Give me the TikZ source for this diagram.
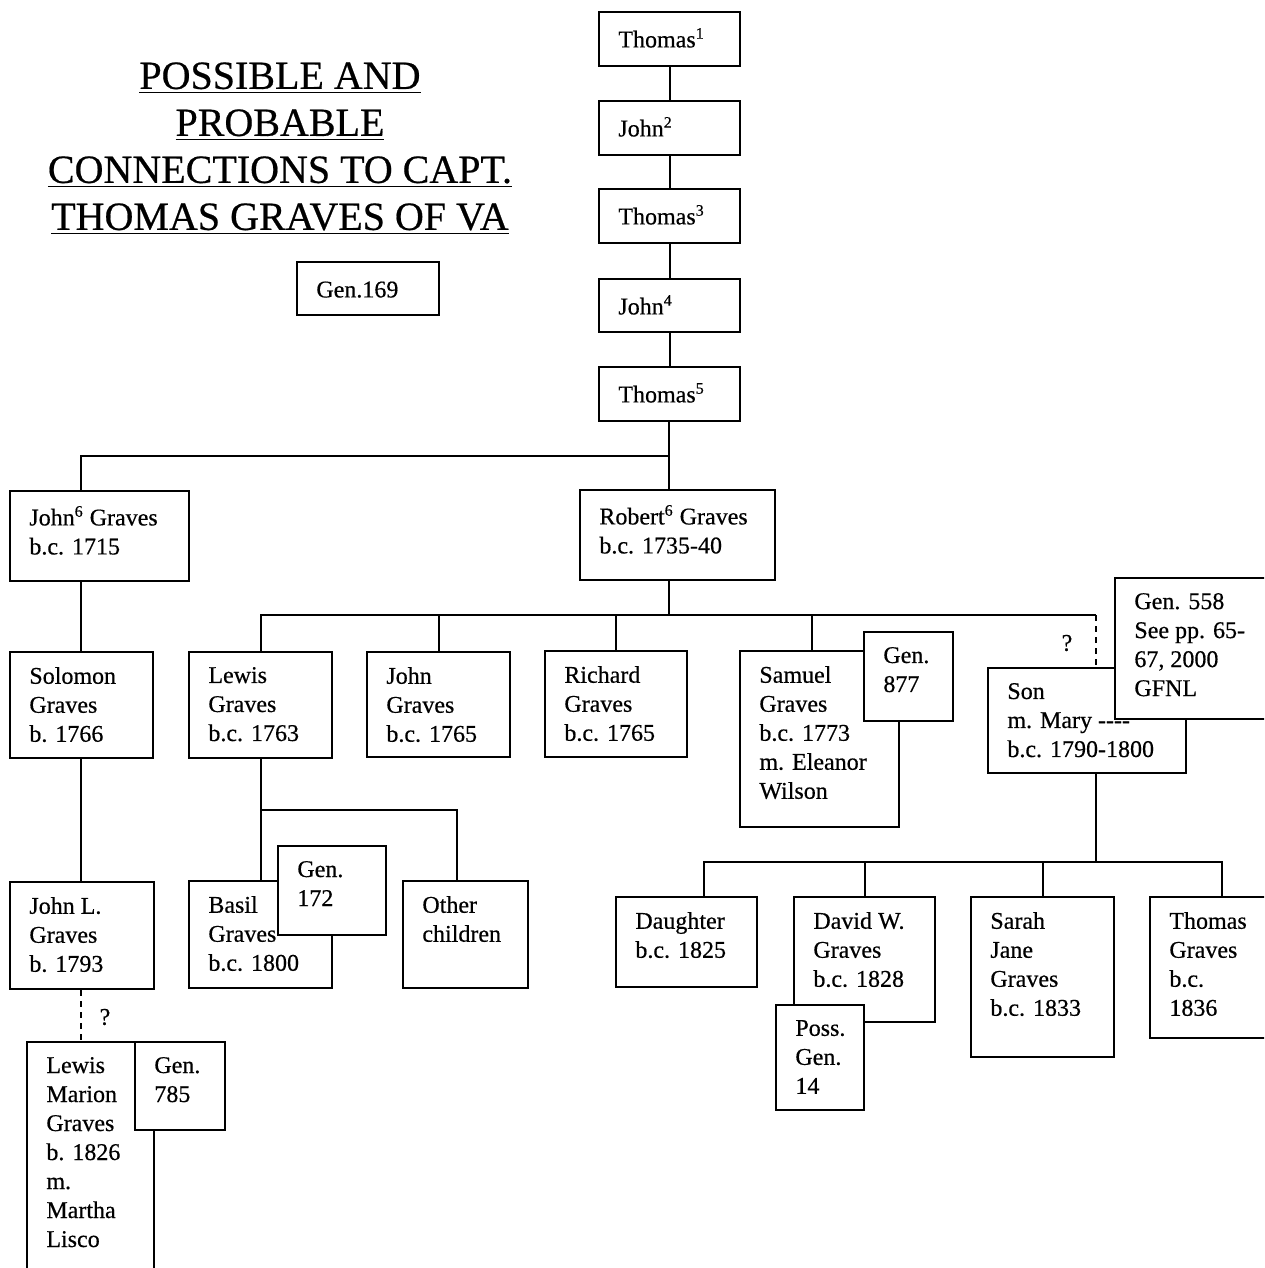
\documentclass[tikz,border=0pt]{standalone}
\usepackage{fontspec}
\setmainfont{Liberation Serif}[UprightFeatures={FakeBold=0.5}]
\usetikzlibrary{fit}
\tikzset{
    gbox/.style={draw, fill=white, line width=1pt, inner sep=0pt}, % 家谱方框
    gtxt/.style={anchor=north west, align=left, inner sep=0pt, font=\fontsize{12}{14.5}\selectfont, execute at begin node=\strut}, % 框内文字
    link/.style={line width=1pt}, % 连线
    maybe/.style={link, dash pattern=on 3pt off 2.5pt}, % 不确定的连线
    qmark/.style={inner sep=0pt, font=\fontsize{12}{14.5}\selectfont}, % 问号
    headline/.style={anchor=north, align=center, inner sep=0pt, font=\fontsize{20}{23.5}\selectfont, execute at begin node=\strut} % 标题
}
\newcommand{\gbox}[3]{\node[gbox, fit={#2 #3}] (#1) {};}
\newcommand{\gtext}[2]{\node[gtxt] (#1-t) at ([shift={(10pt,-7.85pt)}]#1.north west) {#2};}

\begin{document}
\begin{tikzpicture}[x=0.5pt, y=-0.5pt]
    \useasboundingbox (0,0) rectangle (1264,1268);
    \clip (0,0) rectangle (1264,1268);

    \node[headline] (title) at (280,62) {\underline{POSSIBLE AND}\\\underline{PROBABLE}\\\underline{CONNECTIONS TO CAPT.}\\\underline{THOMAS GRAVES OF VA}};

    % boxes
    \gbox{gen169}{(297,262)}{(439,315)}
    \gbox{t1}{(599,12)}{(740,66)}
    \gbox{j2}{(599,101)}{(740,155)}
    \gbox{t3}{(599,189)}{(740,243)}
    \gbox{j4}{(599,279)}{(740,332)}
    \gbox{t5}{(599,367)}{(740,421)}
    \gbox{john6}{(10,491)}{(189,581)}
    \gbox{robert6}{(580,490)}{(775,580)}
    \gbox{solomon}{(10,652)}{(153,758)}
    \gbox{lewis}{(189,652)}{(332,758)}
    \gbox{johng}{(367,652)}{(510,757)}
    \gbox{richard}{(545,651)}{(687,757)}
    \gbox{samuel}{(740,651)}{(899,827)}
    \gbox{gen877}{(864,632)}{(953,721)}
    \gbox{son}{(988,668)}{(1186,773)}
    \gbox{gen558}{(1115,578)}{(1280,719)}
    \gbox{basil}{(189,881)}{(332,988)}
    \gbox{gen172}{(278,846)}{(386,935)}
    \gbox{other}{(403,881)}{(528,988)}
    \gbox{johnl}{(10,882)}{(154,989)}
    \gbox{lewism}{(27,1042)}{(154,1300)}
    \gbox{gen785}{(135,1042)}{(225,1130)}
    \gbox{daughter}{(616,897)}{(757,987)}
    \gbox{david}{(794,897)}{(935,1022)}
    \gbox{poss}{(776,1005)}{(864,1110)}
    \gbox{sarah}{(971,897)}{(1114,1057)}
    \gbox{thomasg}{(1150,897)}{(1294,1038)}

    % texts
    \gtext{gen169}{Gen.169}
    \gtext{t1}{Thomas\textsuperscript{1}}
    \gtext{j2}{John\textsuperscript{2}}
    \gtext{t3}{Thomas\textsuperscript{3}}
    \gtext{j4}{John\textsuperscript{4}}
    \gtext{t5}{Thomas\textsuperscript{5}}
    \gtext{john6}{John\textsuperscript{6} Graves\\b.c. 1715}
    \gtext{robert6}{Robert\textsuperscript{6} Graves\\b.c. 1735-40}
    \gtext{solomon}{Solomon\\Graves\\b. 1766}
    \gtext{lewis}{Lewis\\Graves\\b.c. 1763}
    \gtext{johng}{John\\Graves\\b.c. 1765}
    \gtext{richard}{Richard\\Graves\\b.c. 1765}
    \gtext{samuel}{Samuel\\Graves\\b.c. 1773\\m. Eleanor\\Wilson}
    \gtext{gen877}{Gen.\\877}
    \gtext{son}{Son\\m. Mary -{}-{}-{}-\\b.c. 1790-1800}
    \gtext{gen558}{Gen. 558\\See pp. 65-\\67, 2000\\GFNL}
    \gtext{basil}{Basil\\Graves\\b.c. 1800}
    \gtext{gen172}{Gen.\\172}
    \gtext{other}{Other\\children}
    \gtext{johnl}{John L.\\Graves\\b. 1793}
    \gtext{lewism}{Lewis\\Marion\\Graves\\b. 1826\\m.\\Martha\\Lisco}
    \gtext{gen785}{Gen.\\785}
    \gtext{daughter}{Daughter\\b.c. 1825}
    \gtext{david}{David W.\\Graves\\b.c. 1828}
    \gtext{poss}{Poss.\\Gen.\\14}
    \gtext{sarah}{Sarah\\Jane\\Graves\\b.c. 1833}
    \gtext{thomasg}{Thomas\\Graves\\b.c.\\1836}

    % connectors
    \coordinate (tb) at (669,456);
    \coordinate (lx) at (81,0);
    \coordinate (rb) at (669,615);
    \coordinate (sb) at (1096,615);
    \coordinate (lb) at (457,810);
    \coordinate (mb) at (704,862);

    \draw[link] (t1) -- (j2) (j2) -- (t3) (t3) -- (j4) (j4) -- (t5);
    \draw[link] (t5.south -| tb) -- (robert6.north -| tb);
    \draw[link] (tb) -| (john6.north -| lx);
    \draw[link] (john6.south -| lx) -- (solomon.north -| lx);
    \draw[link] (solomon.south -| lx) -- (johnl.north -| lx);
    \draw[maybe] (johnl.south -| lx) -- (lewism.north -| lx);

    \draw[link] (robert6.south -| rb) -- (rb);
    \draw[link] (lewis.north) |- (sb);
    \draw[link] (johng.north) -- (johng.north |- rb);
    \draw[link] (richard.north) -- (richard.north |- rb);
    \draw[link] ([xshift=-4pt]samuel.north) -- ([xshift=-4pt]samuel.north |- rb);
    \draw[maybe] (sb) -- (son.north -| sb);

    \draw[link] (lewis.south) -- (basil.north);
    \draw[link] (lewis.south |- lb) -| (other.north -| lb);

    \draw[link] (son.south -| sb) -- (sb |- mb);
    \draw[link] (daughter.north -| mb) |- (thomasg.north |- mb) -- (thomasg.north);
    \draw[link] (david.north) -- (david.north |- mb);
    \draw[link] (sarah.north) -- (sarah.north |- mb);

    \node[qmark] (q1) at (1067,643) {?};
    \node[qmark] (q2) at (105,1017) {?};
\end{tikzpicture}
\end{document}
